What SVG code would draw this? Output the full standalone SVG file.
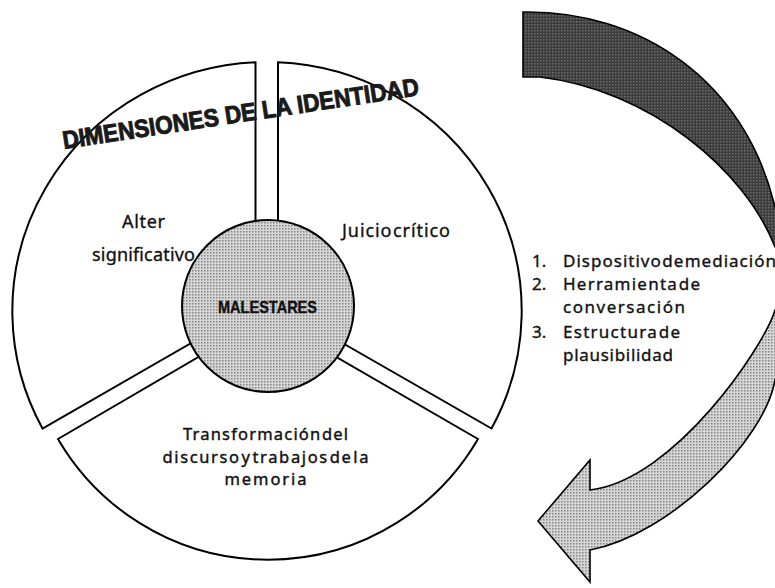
<svg xmlns="http://www.w3.org/2000/svg" width="775" height="588" viewBox="0 0 775 588">
<style>
.seg{fill:#fff;stroke:#000;stroke-width:2;stroke-linejoin:miter}
.lbl{font-family:"Noto Sans","Open Sans",sans-serif;font-size:18px;fill:#111;stroke:#111;stroke-width:0.35}
.lbs{font-family:"Noto Sans","Open Sans",sans-serif;font-size:16.5px;fill:#111;stroke:#111;stroke-width:0.4}
.lst{font-family:"Noto Sans","Open Sans",sans-serif;font-size:17px;fill:#111;stroke:#111;stroke-width:0.35}
.ttl{font-family:"Liberation Sans",Arial,sans-serif;font-size:25px;font-weight:bold;fill:#1a1a1a;stroke:#1a1a1a;stroke-width:1}
</style>
<defs>
<pattern id="stipLight" width="3" height="3" patternUnits="userSpaceOnUse">
<rect width="3" height="3" fill="#d6d6d6"/><rect width="1.5" height="1.5" fill="#858585"/>
</pattern>
<pattern id="stipDark" width="3" height="3" patternUnits="userSpaceOnUse">
<rect width="3" height="3" fill="#3c3c3c"/><rect width="1.5" height="1.5" fill="#6e6e6e"/>
</pattern>
<clipPath id="clipTop"><rect x="400" y="0" width="400" height="280"/></clipPath>
<clipPath id="clipBot"><rect x="400" y="280" width="400" height="320"/></clipPath>
<path id="arrowShape" d="M523,12 C640,10 745,80 775,207 C785,240 789,348 775,380 C765,440 670,535 590,550 L590,582 L538,521 L590,460 L590,490 C675,480 765,345 775,310 C790,290 790,265 775,247 C745,170 650,90 540,77 L523,77 Z"/>
<path id="titlePath" d="M64,149 Q240,122 421,95"/>
</defs>

<g id="connectors">
<g id="cycle-arrow">
<use href="#arrowShape" fill="url(#stipDark)" clip-path="url(#clipTop)"/>
<use href="#arrowShape" fill="url(#stipLight)" clip-path="url(#clipBot)"/>
<use href="#arrowShape" fill="none" stroke="#000" stroke-width="1.6" stroke-linejoin="miter"/>
</g>
</g>

<g id="node-alter">
<path class="seg" d="M255.5,306 L255.5,62.3 A255,249 0 0 0 42.5,428.5 Z"/>
<text class="lbl" x="122" y="228" textLength="43">Alter</text>
<text class="lbl" x="92" y="261" textLength="103">significativo</text>
</g>

<g id="node-juicio">
<path class="seg" d="M278,306 L278,62.2 A255,249 0 0 1 491.5,428.5 Z"/>
<text class="lbl" x="342" y="236.5" textLength="108" word-spacing="-5">Juicio crítico</text>
</g>

<g id="node-transformacion">
<path class="seg" d="M267,317 L58,439 A243,243 0 0 0 478,439 Z"/>
<text class="lbs" x="265.5" y="440" text-anchor="middle" textLength="165" word-spacing="-5">Transformación del</text>
<text class="lbs" x="265.5" y="462.5" text-anchor="middle" textLength="206" word-spacing="-5">discurso y trabajos de la</text>
<text class="lbs" x="265.5" y="485" text-anchor="middle" textLength="82">memoria</text>
</g>

<g id="node-malestares">
<circle cx="268" cy="306" r="86" fill="url(#stipLight)" stroke="#000" stroke-width="2"/>
<text x="218" y="312.5" textLength="99" lengthAdjust="spacingAndGlyphs" style="font-family:'Liberation Sans',Arial,sans-serif;font-size:17px;font-weight:bold;fill:#111;stroke:#111;stroke-width:0.4">MALESTARES</text>
</g>

<g id="node-title">
<text class="ttl"><textPath href="#titlePath" textLength="360" lengthAdjust="spacingAndGlyphs">DIMENSIONES DE LA IDENTIDAD</textPath></text>
</g>

<g id="node-list">
<text class="lst" x="532" y="267">1.</text>
<text class="lst" x="563" y="267" textLength="213" word-spacing="-5">Dispositivo de mediación</text>
<text class="lst" x="532" y="290">2.</text>
<text class="lst" x="563" y="290" textLength="137" word-spacing="-5">Herramienta de</text>
<text class="lst" x="563" y="312.5" textLength="122">conversación</text>
<text class="lst" x="532" y="338">3.</text>
<text class="lst" x="563" y="338" textLength="117" word-spacing="-5">Estructura de</text>
<text class="lst" x="563" y="360.5" textLength="110">plausibilidad</text>
</g>
</svg>
